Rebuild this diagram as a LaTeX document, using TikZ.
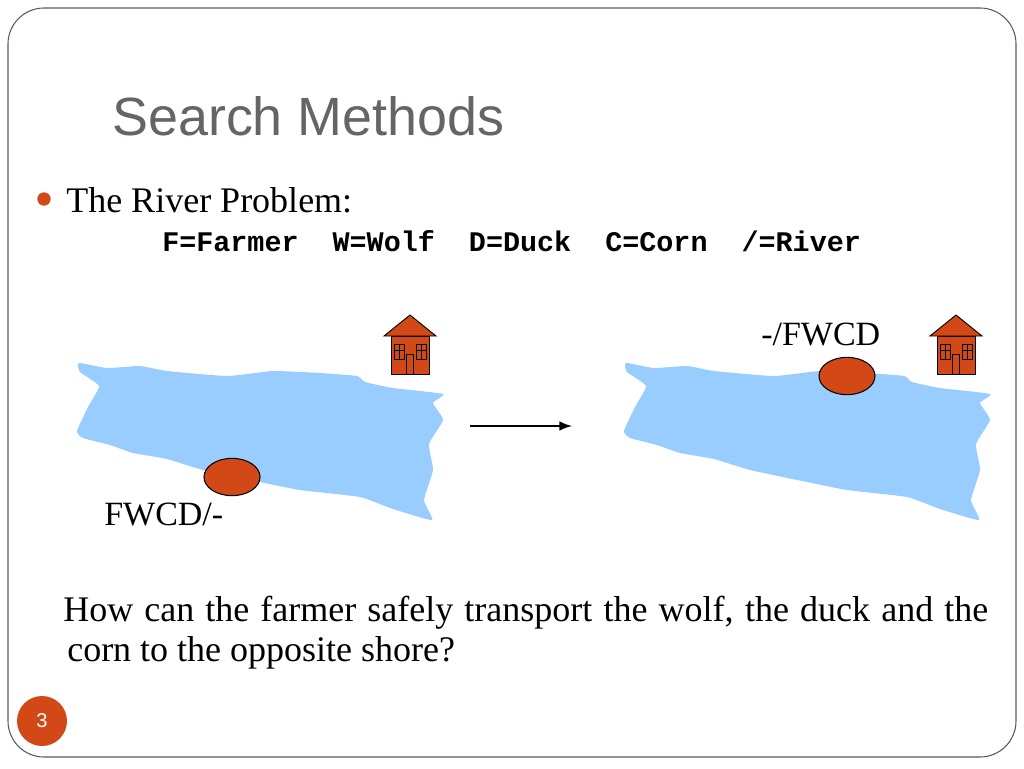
\documentclass[tikz,border=0pt]{standalone}
\usepackage{fontspec}
\setmainfont{Liberation Serif}
\newfontfamily\headfont{Liberation Sans}
\newfontfamily\codefont{Liberation Mono}
\usetikzlibrary{shapes.geometric}
\definecolor{rust}{HTML}{D34817}
\definecolor{water}{HTML}{99CCFF}
\definecolor{titlegray}{HTML}{696464}
\definecolor{framegray}{HTML}{5A5A5A}
\tikzset{
	boat/.style={ellipse,draw=black,fill=rust,line width=0.8pt,minimum width=42pt,minimum height=28pt,inner sep=0pt},
	lbl/.style={anchor=base west,inner sep=0pt,font=\fontsize{25.5}{30}\selectfont},
	river/.pic={
		\fill[water] plot[smooth cycle,tension=0.28] coordinates {
			(79,363) (107,368) (140,366) (167,371) (227,376) (273,371) (320,373) (357,376)
			(365,382) (393,388) (443,394) (433,403) (443,420) (429,444) (433,470) (424,500)
			(432,520) (393,509) (360,497) (300,490) (260,482) (203,470) (167,459) (133,453)
			(110,445) (83,438) (77,431) (88,407) (99,386) (80,372)};
	},
	house/.pic={
		\draw[fill=rust,line width=0.7pt] (391,336) rectangle (429,374);
		\draw[fill=rust,line width=0.7pt] (384,336) -- (410,315) -- (436,336) -- cycle;
		\draw[line width=0.5pt] (394,344) rectangle (404,359);
		\draw[line width=0.5pt] (416,344) rectangle (426,359);
		\draw[line width=0.5pt] (399,344) -- (399,359) (394,350) -- (404,350);
		\draw[line width=0.5pt] (421,344) -- (421,359) (416,350) -- (426,350);
		\draw[line width=0.5pt] (406.5,374) rectangle (413.5,354);
	}
}
\begin{document}
\begin{tikzpicture}[x=0.75pt,y=-0.75pt]
	\useasboundingbox (0,0) rectangle (1024,768);
	\draw[framegray,line width=0.8pt,rounded corners=27pt] (8,8) rectangle (1016,757);
	\node[circle,fill=rust,minimum size=37.5pt,inner sep=0pt,text=white,font=\headfont\fontsize{15}{16}\selectfont] (pagenum) at (42,721) {3};
	\node[anchor=base west,inner sep=0pt,text=titlegray,font=\headfont\fontsize{40.4}{44}\selectfont] (title) at (112,135) {Search Methods};
	\node[circle,fill=rust,minimum size=10pt,inner sep=0pt] (bullet) at (44,199) {};
	\node[anchor=base west,inner sep=0pt,font=\fontsize{27}{30}\selectfont] (problem) at (66,212) {The River Problem:};
	\node[anchor=base west,inner sep=0pt,font=\codefont\bfseries\fontsize{21.3}{24}\selectfont] (legend) at (162,251) {F=Farmer\ \ W=Wolf\ \ D=Duck\ \ C=Corn\ \ /=River};
	% Left river
	\pic at (0,0) {river};
	\pic at (0,0) {house};
	\node[boat] (boatleft) at (232,477) {};
	\node[lbl] (fromlabel) at (104,525) {FWCD/-};
	% Arrow
	\coordinate (arrowstart) at (470,426);
	\coordinate (arrowend) at (572,426);
	\draw[->,>=latex,line width=2.2pt] (arrowstart) -- (arrowend);
	% Right river
	\pic at (547,0) {river};
	\pic at (546,0) {house};
	\node[boat] (boatright) at (847,376) {};
	\node[lbl] (tolabel) at (761,345) {-/FWCD};
	% Question
	\node[anchor=north west,inner sep=0pt,text width=690.75pt,align=justify,font=\fontsize{27}{30}\selectfont] (question) at (67,596) {\hspace*{-3pt}How can the farmer safely transport the wolf, the duck and the corn to the opposite shore?};
\end{tikzpicture}
\end{document}
